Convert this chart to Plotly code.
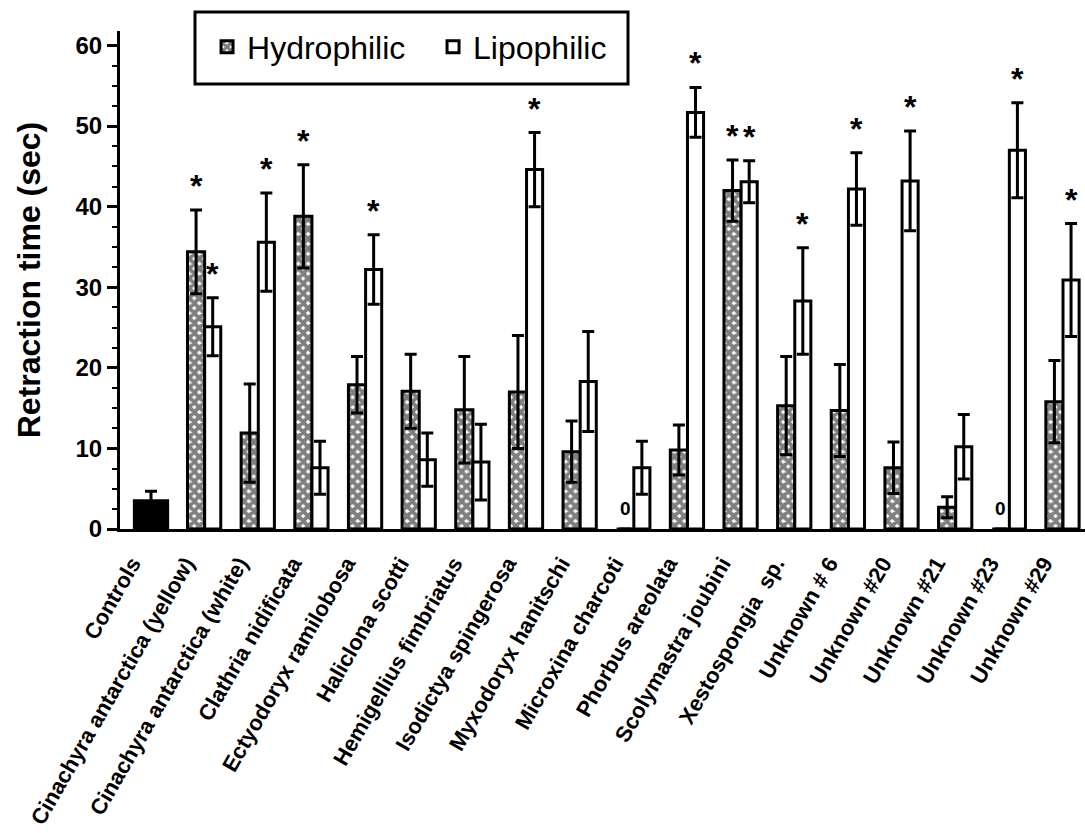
import plotly.graph_objects as go

categories = ["Controls", "Cinachyra antarctica (yellow)", "Cinachyra antarctica (white)",
              "Clathria nidificata", "Ectyodoryx ramilobosa", "Haliclona scotti",
              "Hemigellius fimbriatus", "Isodictya spingerosa", "Myxodoryx hanitschi",
              "Microxina charcoti", "Phorbus areolata", "Scolymastra joubini",
              "Xestospongia  sp.", "Unknown # 6", "Unknown #20", "Unknown #21",
              "Unknown #23", "Unknown #29"]

control_value = [3.5]
control_err = [1.2]

hydro = [None, 34.4, 11.9, 38.8, 17.9, 17.1, 14.8, 17.0, 9.6, 0, 9.8, 42.0, 15.3, 14.7, 7.6, 2.7, 0, 15.8]
hydro_err = [None, 5.2, 6.1, 6.4, 3.5, 4.6, 6.6, 7.0, 3.8, 0, 3.1, 3.8, 6.1, 5.7, 3.2, 1.3, 0, 5.1]
hydro_sig = [0, 1, 0, 1, 0, 0, 0, 0, 0, 0, 0, 1, 0, 0, 0, 0, 0, 0]

lipo = [None, 25.1, 35.6, 7.6, 32.2, 8.6, 8.3, 44.6, 18.3, 7.6, 51.7, 43.1, 28.3, 42.2, 43.2, 10.2, 47.0, 30.9]
lipo_err = [None, 3.6, 6.1, 3.3, 4.3, 3.3, 4.7, 4.6, 6.2, 3.3, 3.1, 2.6, 6.6, 4.5, 6.2, 4.0, 5.9, 7.0]
lipo_sig = [0, 1, 1, 0, 1, 0, 0, 1, 0, 0, 1, 1, 1, 1, 1, 0, 1, 1]

y_ticks = [0, 10, 20, 30, 40, 50, 60]

FONT = "Liberation Sans, Arial, sans-serif"

fig = go.Figure()

fig.add_trace(go.Bar(
    x=[categories[0]], y=control_value, width=0.62, offset=-0.31,
    marker=dict(color="black", line=dict(color="black", width=3)),
    error_y=dict(type="data", array=control_err, color="black", thickness=3, width=6),
    showlegend=False, name="Controls"))

fig.add_trace(go.Bar(
    x=categories[1:], y=hydro[1:], width=0.32, offset=-0.32, name="Hydrophilic",
    marker=dict(color="white", line=dict(color="black", width=3),
                pattern=dict(shape="x", fgcolor="black", bgcolor="white", size=7, solidity=0.8)),
    error_y=dict(type="data", array=hydro_err[1:], color="black", thickness=3, width=6)))

fig.add_trace(go.Bar(
    x=categories[1:], y=lipo[1:], width=0.3, offset=0.0, name="Lipophilic",
    marker=dict(color="white", line=dict(color="black", width=3)),
    error_y=dict(type="data", array=lipo_err[1:], color="black", thickness=3, width=6)))

annotations = []
for i, c in enumerate(categories):
    if hydro_sig[i]:
        annotations.append(dict(x=c, y=hydro[i] + hydro_err[i], text="*", showarrow=False,
                                xshift=-8.6, yshift=4, yanchor="bottom",
                                font=dict(family=FONT, size=32, color="black", weight="bold")))
    if lipo_sig[i]:
        annotations.append(dict(x=c, y=lipo[i] + lipo_err[i], text="*", showarrow=False,
                                xshift=8, yshift=4, yanchor="bottom",
                                font=dict(family=FONT, size=32, color="black", weight="bold")))
    if hydro[i] == 0:
        annotations.append(dict(x=c, y=0, text="0", showarrow=False,
                                xshift=-8.6, yshift=8, yanchor="bottom",
                                font=dict(family=FONT, size=19, color="black", weight="bold")))

fig.update_layout(
    width=1085, height=833,
    margin=dict(l=120, r=0, t=31, b=304),
    plot_bgcolor="white", paper_bgcolor="white",
    barmode="overlay",
    font=dict(family=FONT, color="black"),
    annotations=annotations,
    legend=dict(orientation="h", x=0.0902, y=(529 - 47) / 498, xanchor="left", yanchor="middle",
                font=dict(family=FONT, size=32, color="black"),
                bgcolor="rgba(0,0,0,0)", borderwidth=0, entrywidth=181),
    shapes=[dict(type="rect", xref="paper", yref="paper",
                 x0=(195 - 120) / 965, x1=(628 - 120) / 965,
                 y0=(529 - 84) / 498, y1=(529 - 12) / 498,
                 line=dict(color="black", width=3), fillcolor="rgba(0,0,0,0)")],
)

fig.update_xaxes(
    type="category", categoryorder="array", categoryarray=categories,
    range=[-0.578, 17.41], showline=True, linecolor="black", linewidth=3,
    ticks="", tickangle=-60, showgrid=False, zeroline=False, automargin=False,
    ticklabelstandoff=10, ticklabelshift=-19,
    tickfont=dict(family=FONT, size=22, color="black", weight="bold"))

fig.update_yaxes(
    range=[0, 61.8], tickvals=y_ticks, showline=True, linecolor="black", linewidth=3,
    ticks="outside", ticklen=10, tickwidth=3, tickcolor="black",
    minor=dict(dtick=2.5, ticks="outside", ticklen=5, tickwidth=2, tickcolor="black"),
    showgrid=False, zeroline=False, automargin=False,
    tickfont=dict(family=FONT, size=24, color="black", weight="bold"),
    title=dict(text="Retraction time (sec)", standoff=26,
               font=dict(family=FONT, size=32, color="black", weight="bold")))

fig.write_html("out.html", config={"displayModeBar": False},
               post_script="document.body.style.margin='0';")
